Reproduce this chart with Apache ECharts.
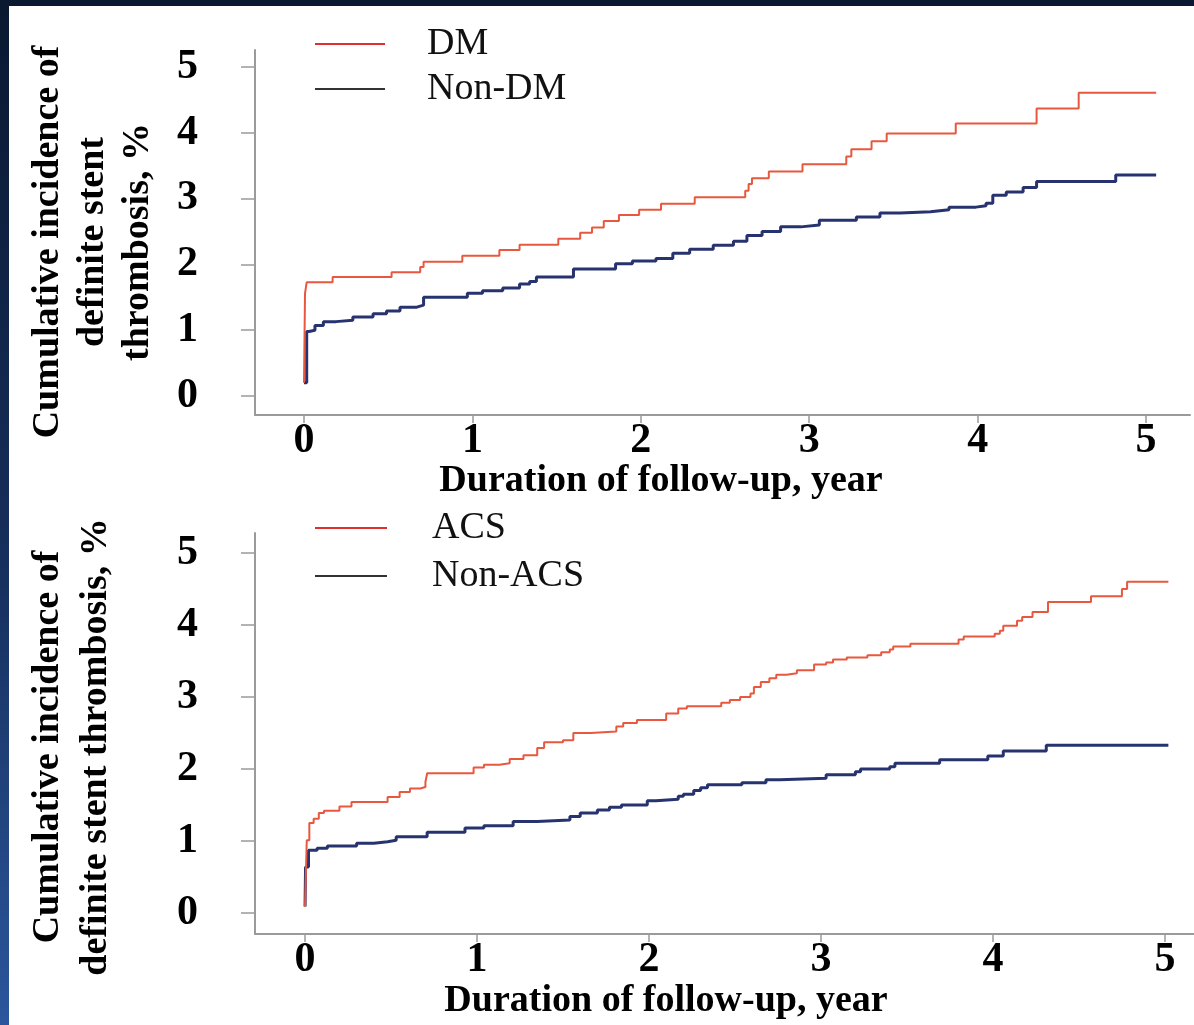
<!DOCTYPE html>
<html>
<head>
<meta charset="utf-8">
<script src="https://cdn.jsdelivr.net/npm/echarts@6.0.0/dist/echarts.min.js"></script>
<style>
  html, body {
    margin: 0;
    width: 1194px;
    height: 1025px;
    overflow: hidden;
    background: linear-gradient(180deg, #0a1830 0%, #162f5c 55%, #2b569c 100%);
  }
  #chart {
    position: absolute;
    left: 9px;
    top: 6px;
    width: 1185px;
    height: 1019px;
    background: #fff;
  }
</style>
</head>
<body>
<div id="chart"></div>
<script>
// tick values shared by all axes
var yearTicks = [0, 1, 2, 3, 4, 5];
var pctTicks = [0, 1, 2, 3, 4, 5];

// top panel: DM vs Non-DM (time in years, cumulative incidence %)
var dmTime = [0, 0.006, 0.016, 0.17, 0.52, 0.69, 0.71, 0.94, 1.16, 1.28, 1.51, 1.64, 1.71, 1.78, 1.87, 1.99, 2.12, 2.32, 2.62, 2.64, 2.66, 2.76, 2.96, 3.22, 3.25, 3.37, 3.46, 3.87, 4.35, 4.60, 5.06];
var dmRate = [0.2, 1.56, 1.73, 1.81, 1.88, 1.96, 2.04, 2.13, 2.22, 2.30, 2.39, 2.48, 2.56, 2.66, 2.75, 2.83, 2.92, 3.02, 3.12, 3.22, 3.31, 3.41, 3.52, 3.64, 3.75, 3.87, 3.99, 4.14, 4.37, 4.61, 4.61];
var nonDmTime = [0, 0.016, 0.03, 0.065, 0.115, 0.19, 0.29, 0.41, 0.49, 0.57, 0.67, 0.71, 0.97, 1.06, 1.18, 1.28, 1.34, 1.38, 1.60, 1.85, 1.95, 2.09, 2.19, 2.29, 2.43, 2.55, 2.63, 2.72, 2.83, 2.95, 3.06, 3.28, 3.42, 3.54, 3.72, 3.83, 3.99, 4.05, 4.09, 4.17, 4.27, 4.35, 4.82, 5.06];
var nonDmRate = [0.2, 0.98, 1.0, 1.07, 1.13, 1.15, 1.2, 1.25, 1.29, 1.35, 1.38, 1.50, 1.56, 1.60, 1.64, 1.70, 1.74, 1.81, 1.93, 2.01, 2.05, 2.09, 2.17, 2.23, 2.29, 2.35, 2.44, 2.50, 2.57, 2.60, 2.67, 2.72, 2.78, 2.80, 2.83, 2.87, 2.89, 2.93, 3.05, 3.10, 3.17, 3.26, 3.36, 3.36];

// bottom panel: ACS vs Non-ACS
var acsTime = [0, 0.01, 0.025, 0.05, 0.08, 0.11, 0.20, 0.27, 0.48, 0.55, 0.61, 0.67, 0.70, 0.71, 0.98, 1.04, 1.13, 1.19, 1.27, 1.35, 1.39, 1.50, 1.56, 1.66, 1.81, 1.85, 1.93, 2.10, 2.17, 2.22, 2.42, 2.47, 2.53, 2.59, 2.61, 2.65, 2.70, 2.74, 2.80, 2.86, 2.96, 3.03, 3.07, 3.15, 3.27, 3.35, 3.40, 3.42, 3.52, 3.80, 3.83, 4.01, 4.04, 4.06, 4.14, 4.17, 4.23, 4.32, 4.57, 4.75, 4.78, 5.02];
var acsRate = [0.09, 1.01, 1.25, 1.31, 1.39, 1.42, 1.48, 1.54, 1.61, 1.68, 1.73, 1.75, 1.82, 1.94, 2.02, 2.06, 2.08, 2.14, 2.19, 2.29, 2.37, 2.40, 2.50, 2.52, 2.59, 2.64, 2.68, 2.77, 2.84, 2.87, 2.92, 2.96, 3.00, 3.05, 3.14, 3.21, 3.26, 3.31, 3.33, 3.37, 3.45, 3.48, 3.52, 3.55, 3.58, 3.62, 3.66, 3.70, 3.74, 3.80, 3.84, 3.88, 3.92, 3.99, 4.06, 4.11, 4.18, 4.32, 4.40, 4.50, 4.60, 4.60];
var nonAcsTime = [0, 0.003, 0.02, 0.07, 0.13, 0.30, 0.40, 0.48, 0.53, 0.71, 0.93, 1.04, 1.21, 1.35, 1.54, 1.60, 1.70, 1.77, 1.84, 1.99, 2.04, 2.17, 2.20, 2.26, 2.30, 2.34, 2.54, 2.68, 2.76, 3.03, 3.20, 3.23, 3.40, 3.43, 3.69, 3.97, 4.06, 4.31, 5.02];
var nonAcsRate = [0.09, 0.64, 0.87, 0.90, 0.93, 0.97, 0.99, 1.01, 1.06, 1.12, 1.18, 1.21, 1.27, 1.29, 1.34, 1.39, 1.43, 1.47, 1.50, 1.56, 1.58, 1.62, 1.65, 1.70, 1.74, 1.78, 1.81, 1.85, 1.87, 1.92, 1.96, 2.00, 2.03, 2.08, 2.13, 2.18, 2.25, 2.33, 2.33];

var RED = '#e8583f';
var NAVY = '#27336e';
var AXIS = '#9a9a9a';
var SERIF = '"Liberation Serif", "Times New Roman", serif';

function toPairs(t, v) {
  return t.map(function (x, i) { return [x, v[i]]; });
}

function xAxisCfg(idx, max) {
  return {
    type: 'value', gridIndex: idx, min: -0.291, max: max,
    splitLine: { show: false },
    axisLine: { onZero: false, lineStyle: { color: AXIS, width: 2 } },
    axisTick: { customValues: yearTicks, length: 8, lineStyle: { color: AXIS, width: 1.5 } },
    axisLabel: { customValues: yearTicks, margin: 5, color: '#000', fontFamily: SERIF, fontWeight: 'bold', fontSize: 42 }
  };
}

function yAxisCfg(idx, min, max) {
  return {
    type: 'value', gridIndex: idx, min: min, max: max,
    splitLine: { show: false },
    axisLine: { show: true, onZero: false, lineStyle: { color: AXIS, width: 2 } },
    axisTick: { show: true, customValues: pctTicks, length: 14, lineStyle: { color: AXIS, width: 1.5 } },
    axisLabel: { customValues: pctTicks, margin: 57, color: '#000', fontFamily: SERIF, fontWeight: 'bold', fontSize: 42 }
  };
}

function legendCfg(top, gap, width, pad, names) {
  return {
    orient: 'vertical', left: 306, top: top, itemGap: gap, padding: 0,
    icon: 'rect', itemWidth: width, itemHeight: 2,
    textStyle: { fontFamily: SERIF, fontSize: 38, lineHeight: 36, color: '#111', padding: [0, 0, 0, pad] },
    data: [
      { name: names[0], itemStyle: { color: '#e0302e' } },
      { name: names[1], itemStyle: { color: '#333333' } }
    ]
  };
}

function lineSeries(name, idx, color, width, data) {
  return {
    name: name, type: 'line', step: 'end', xAxisIndex: idx, yAxisIndex: idx,
    showSymbol: false, symbol: 'none', data: data,
    lineStyle: { color: color, width: width }, itemStyle: { color: color }
  };
}

function titleText(x, y, text, rotate, lineHeight) {
  return {
    type: 'text', x: x, y: y, rotation: rotate ? Math.PI / 2 : 0,
    style: {
      text: text, fill: '#000', font: 'bold 38px ' + SERIF,
      align: 'center', verticalAlign: 'middle', lineHeight: lineHeight
    }
  };
}

var chart = echarts.init(document.getElementById('chart'));
chart.setOption({
  animation: false,
  backgroundColor: '#fff',
  grid: [
    { left: 246, top: 44, width: 935, height: 365 },
    { left: 246, top: 527, width: 939, height: 401 }
  ],
  xAxis: [xAxisCfg(0, 5.261), xAxisCfg(1, 5.169)],
  yAxis: [yAxisCfg(0, -0.289, 5.258), yAxisCfg(1, -0.292, 5.278)],
  legend: [
    legendCfg(19, 7, 70, 37, ['DM', 'Non-DM']),
    legendCfg(503, 10, 72, 40, ['ACS', 'Non-ACS'])
  ],
  graphic: [
    titleText(84, 236, 'Cumulative incidence of\ndefinite stent\nthrombosis, %', true, 45),
    titleText(63, 741, 'Cumulative incidence of\ndefinite stent thrombosis, %', true, 48),
    titleText(652, 475, 'Duration of follow-up, year', false, 40),
    titleText(657, 995, 'Duration of follow-up, year', false, 40)
  ],
  series: [
    lineSeries('Non-DM', 0, NAVY, 3, toPairs(nonDmTime, nonDmRate)),
    lineSeries('DM', 0, RED, 2, toPairs(dmTime, dmRate)),
    lineSeries('Non-ACS', 1, NAVY, 3, toPairs(nonAcsTime, nonAcsRate)),
    lineSeries('ACS', 1, RED, 2, toPairs(acsTime, acsRate))
  ]
});
</script>
</body>
</html>
